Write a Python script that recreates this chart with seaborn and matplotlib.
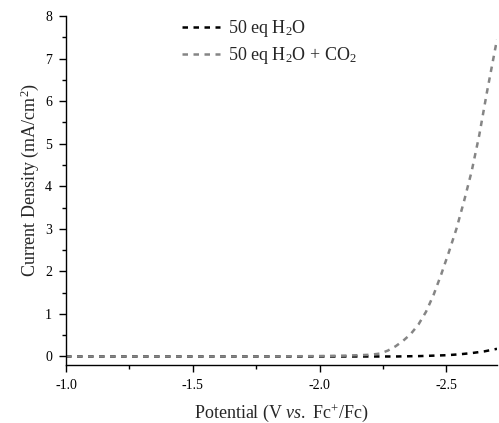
import numpy as np
import pandas as pd
import matplotlib
matplotlib.use("Agg")
import matplotlib.pyplot as plt
import seaborn as sns
from matplotlib.ticker import MultipleLocator, FormatStrFormatter

sns.set_style("ticks")
plt.rcParams['font.family'] = ['Liberation Serif', 'DejaVu Serif']
plt.rcParams['mathtext.fontset'] = 'custom'
plt.rcParams['mathtext.rm'] = 'Liberation Serif'
plt.rcParams['mathtext.it'] = 'Liberation Serif:italic'
plt.rcParams['axes.unicode_minus'] = False

# Data
pot_h2o = [-1.0, -1.2, -1.4, -1.6, -1.8, -2.0, -2.1, -2.2, -2.3, -2.4, -2.45, -2.5, -2.55, -2.6, -2.65, -2.7]
cur_h2o = [0.0, 0.0, 0.0, 0.0, 0.0, 0.0, 0.0, 0.0, 0.0, 0.01, 0.02, 0.03, 0.05, 0.08, 0.12, 0.18]

pot_co2 = [-1.0, -1.2, -1.4, -1.6, -1.8, -2.0, -2.1, -2.2, -2.24, -2.27, -2.30, -2.33, -2.36, -2.39, -2.42,
           -2.45, -2.48, -2.51, -2.54, -2.57, -2.60, -2.63, -2.66, -2.70]
cur_co2 = [0.0, 0.0, 0.0, 0.0, 0.0, 0.01, 0.02, 0.04, 0.07, 0.14, 0.24, 0.37, 0.53, 0.75, 1.05,
           1.45, 1.93, 2.45, 3.0, 3.65, 4.35, 5.2, 6.2, 7.45]

label_h2o = "50 eq H$_2$O"
label_co2 = "50 eq H$_2$O + CO$_2$"

df1 = pd.DataFrame({"Potential": pot_h2o, "Current": cur_h2o})
df2 = pd.DataFrame({"Potential": pot_co2, "Current": cur_co2})

fig = plt.figure(figsize=(4.99, 4.23), dpi=100)
ax = fig.add_axes([66/499, 1-365/423, (497-66)/499, (365-16)/423])

sns.lineplot(data=df1, x="Potential", y="Current", ax=ax, color="black", lw=1.8,
             label=label_h2o, sort=False)
sns.lineplot(data=df2, x="Potential", y="Current", ax=ax, color="#858585", lw=1.8,
             label=label_co2, sort=False)
ax.lines[0].set_dashes([2.2, 2.2])
ax.lines[1].set_dashes([2.2, 2.2])

ax.set_xlim(-1.0, -2.7)
ax.set_ylim(-0.2, 8)
ax.xaxis.set_major_locator(MultipleLocator(0.5))
ax.xaxis.set_minor_locator(MultipleLocator(0.25))
ax.yaxis.set_major_locator(MultipleLocator(1))
ax.yaxis.set_minor_locator(MultipleLocator(0.5))
ax.xaxis.set_major_formatter(FormatStrFormatter('%.1f'))
ax.tick_params(which='major', direction='out', length=5, width=1, labelsize=10, colors='black', pad=5)
ax.tick_params(which='minor', direction='out', length=3, width=1, colors='black')
for s in ['top', 'right']:
    ax.spines[s].set_visible(False)
for s in ['left', 'bottom']:
    ax.spines[s].set_linewidth(1)
    ax.spines[s].set_color('black')

ax.set_xlabel("Potential (V $\\mathit{vs.}$ Fc$^{+}$/Fc)", fontsize=13)
ax.set_ylabel("Current Density (mA/cm$^{2}$)", fontsize=13)
ax.xaxis.set_label_coords(0.5, (365-402)/349)
ax.yaxis.set_label_coords((41-66)/431, 0.53)

leg = ax.legend(loc='upper left', bbox_to_anchor=((168-66)/431, 1.0 + 12/349), frameon=False, fontsize=13,
                handlelength=2.1, handletextpad=0.45, labelspacing=0.32, borderpad=0.3)

fig.savefig("out.png", dpi=100)
